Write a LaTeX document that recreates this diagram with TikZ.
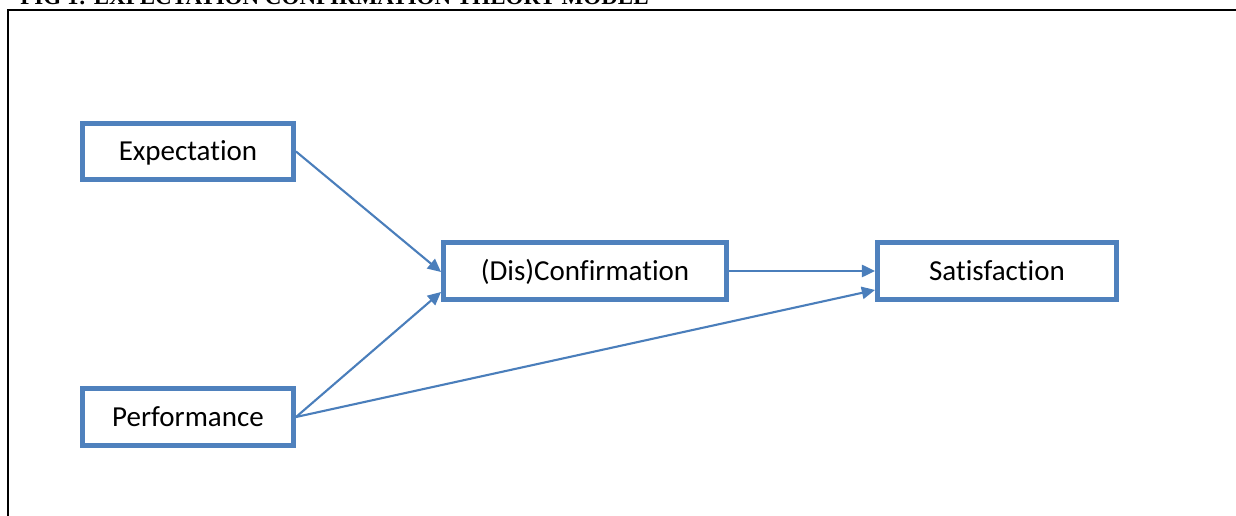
\documentclass[tikz,border=0pt]{standalone}
\usepackage{fontspec}
\setmainfont{Carlito}[Ligatures=NoCommon]
\newfontfamily\titlefont{Liberation Serif}
\usetikzlibrary{arrows.meta}
\definecolor{boxblue}{RGB}{79,129,189}
\definecolor{arrowblue}{RGB}{74,126,187}
\begin{document}
\begin{tikzpicture}[x=0.02cm, y=-0.02cm,
  box/.style={draw=boxblue, line width=2.6pt, fill=white, minimum height=1.13cm, text height=10.6pt, text depth=0pt, font=\fontsize{16.5}{19}\selectfont},
  link/.style={draw=arrowblue, line width=1.2pt, -{Triangle[length=7.5pt, width=7pt]}}]
\useasboundingbox (0,0) rectangle (1236,516);
\begin{scope}
\clip (0,0) rectangle (1236,516);
\node [anchor=base west, inner sep=0pt, font=\titlefont\fontsize{13.1}{15}\selectfont\bfseries] (title) at (20,5) {FIG 1: EXPECTATION CONFIRMATION THEORY MODEL};
\draw [line width=1.2pt] (8,516) -- (8,10) -- (1240,10);
\end{scope}
\node [box, minimum width=4.23cm] (exp) at (188,151.5) {Expectation};
\node [box, minimum width=5.67cm] (conf) at (585,271) {(Dis)Confirmation};
\node [box, minimum width=4.79cm] (sat) at (997,271) {Satisfaction};
\node [box, minimum width=4.23cm] (perf) at (188,417) {Performance};
\draw [link] (exp.east) -- ([yshift=-0.02cm]conf.west);
\draw [link] (perf.east) -- ([yshift=-0.42cm]conf.west);
\draw [link] (conf.east) -- (conf.east -| sat.west);
\draw [link] (perf.east) -- ([yshift=-0.38cm]sat.west);
\end{tikzpicture}
\end{document}
